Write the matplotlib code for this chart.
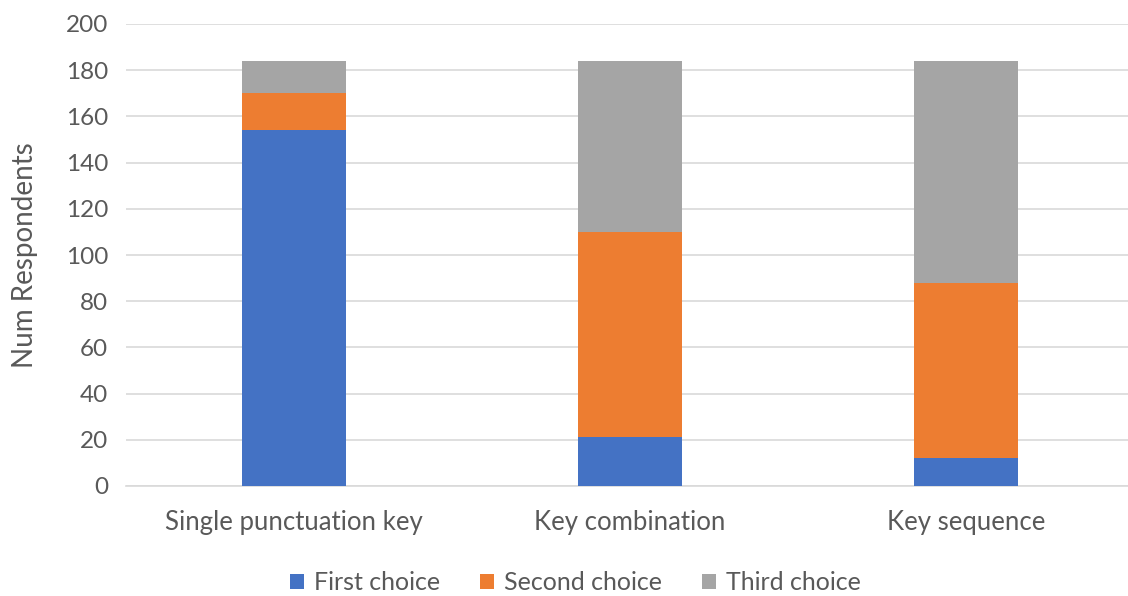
import matplotlib
matplotlib.use("Agg")
import matplotlib.pyplot as plt
import numpy as np

categories = ["Single punctuation key", "Key combination", "Key sequence"]
first_choice = [154, 21, 12]
second_choice = [16, 89, 76]
third_choice = [14, 74, 96]
series_names = ["First choice", "Second choice", "Third choice"]
colors = ["#4472C4", "#ED7D31", "#A5A5A5"]
yticks = [0, 20, 40, 60, 80, 100, 120, 140, 160, 180, 200]

plt.rcParams["font.family"] = ["Lato", "DejaVu Sans"]
text_color = "#595959"

fig = plt.figure(figsize=(11.28, 5.96), dpi=100)
ax = fig.add_axes([126 / 1128, 1 - 486 / 596, 1008 / 1128, 462 / 596])

x = np.arange(len(categories))
bottom = np.zeros(len(categories))
for name, vals, c in zip(series_names, [first_choice, second_choice, third_choice], colors):
    ax.bar(x, vals, width=0.31, bottom=bottom, color=c, label=name, zorder=3)
    bottom += np.array(vals)

ax.set_xlim(-0.5, 2.5)
ax.set_ylim(0, 200)
ax.set_yticks(yticks)
ax.set_xticks(x)
ax.set_xticklabels(categories, fontsize=18.5)
ax.yaxis.grid(True, color="#D9D9D9", linewidth=1.2, zorder=0)
ax.set_axisbelow(True)
for s in ["top", "right", "left"]:
    ax.spines[s].set_visible(False)
ax.spines["bottom"].set_color("#D9D9D9")
ax.spines["bottom"].set_linewidth(1.2)
ax.tick_params(axis="both", length=0, colors=text_color)
ax.tick_params(axis="y", pad=13, labelsize=17.5)
ax.tick_params(axis="x", pad=17)
ax.set_ylabel("Num Respondents", fontsize=20, color=text_color, labelpad=20)

ax.legend(loc="center", bbox_to_anchor=(575 / 1128, 1 - 583 / 596),
          bbox_transform=fig.transFigure, ncol=3, frameon=False,
          fontsize=18, handlelength=0.56, handleheight=0.56,
          handletextpad=0.4, columnspacing=1.6, labelcolor=text_color)

fig.savefig("out.png", dpi=100)
